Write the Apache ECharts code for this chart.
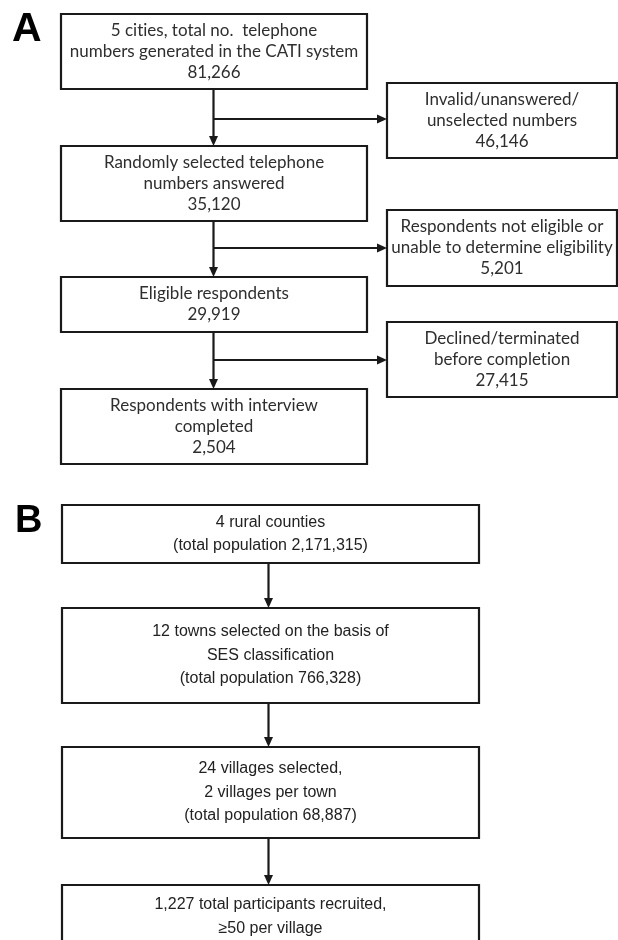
<!DOCTYPE html>
<html>
<head>
<meta charset="utf-8">
<script src="https://cdn.jsdelivr.net/npm/echarts@6/dist/echarts.min.js"></script>
<style>
html,body{margin:0;padding:0;background:#fff;}
#chart{width:618px;height:940px;}
</style>
</head>
<body>
<div id="chart"></div>
<script>
// ---------- DATA ----------
const panelLabels = ['A', 'B'];

// Panel A: telephone survey flow
const mainStepsA = [
  '5 cities, total no.  telephone\nnumbers generated in the CATI system',
  'Randomly selected telephone\nnumbers answered',
  'Eligible respondents',
  'Respondents with interview\ncompleted'
];
const mainCountsA = [81266, 35120, 29919, 2504];

const excludedStepsA = [
  'Invalid/unanswered/\nunselected numbers',
  'Respondents not eligible or\nunable to determine eligibility',
  'Declined/terminated\nbefore completion'
];
const excludedCountsA = [46146, 5201, 27415];

// Panel B: rural sampling flow
const stepsB = [
  '4 rural counties\n(total population {v})',
  '12 towns selected on the basis of\nSES classification\n(total population {v})',
  '24 villages selected,\n2 villages per town\n(total population {v})',
  '{v} total participants recruited,\n\u226550 per village'
];
const valuesB = [2171315, 766328, 68887, 1227];

// ---------- LAYOUT (pixel frame of the figure) ----------
const fmt = n => n.toLocaleString('en-US');
const noLig = s => s.replace(/([tf])(?=[il])/g, '$1\u200C');
const fontA = '17px Lato, "Noto Sans", sans-serif';
const fontB = '16px "Liberation Sans", Arial, sans-serif';

const layoutMainA = [[61, 14, 367, 89], [61, 146, 367, 221], [61, 277, 367, 332], [61, 389, 367, 464]];
const layoutExclA = [[387, 83, 617, 158], [387, 210, 617, 286], [387, 322, 617, 397]];
const layoutB = [[62, 505, 479, 563], [62, 608, 479, 703], [62, 747, 479, 838], [62, 885, 479, 965]];
const stemA = 213.5, stemB = 268.5;
const branchYA = [119, 248, 360];

const boxes = [];
mainStepsA.forEach((t, i) => boxes.push({ r: layoutMainA[i], text: noLig(t) + '\n' + fmt(mainCountsA[i]), font: fontA, lh: 21, fill: '#2e2e2e' }));
excludedStepsA.forEach((t, i) => boxes.push({ r: layoutExclA[i], text: noLig(t) + '\n' + fmt(excludedCountsA[i]), font: fontA, lh: 21, fill: '#2e2e2e' }));
stepsB.forEach((t, i) => boxes.push({ r: layoutB[i], text: t.replace('{v}', fmt(valuesB[i])), font: fontB, lh: 23.5, fill: '#222', top: i === 3 }));

// connectors: [x0,y0,x1,y1]
const connectors = [];
for (let i = 0; i < 3; i++) {
  connectors.push([stemA, layoutMainA[i][3], stemA, layoutMainA[i + 1][1]]);
  connectors.push([stemA, branchYA[i], layoutExclA[i][0], branchYA[i]]);
}
for (let i = 0; i < 3; i++) {
  connectors.push([stemB, layoutB[i][3], stemB, layoutB[i + 1][1]]);
}
const labelPos = [[12, 30], [15, 522]];

const chart = echarts.init(document.getElementById('chart'), null, { renderer: 'canvas' });
const option = {
  animation: false,
  backgroundColor: '#fff',
  grid: { left: 0, right: 0, top: 0, bottom: 0 },
  xAxis: { type: 'value', min: 0, max: 618, show: false },
  yAxis: { type: 'value', min: 0, max: 940, inverse: true, show: false },
  series: [
    {
      type: 'custom',
      clip: false,
      data: boxes.map(b => b.r),
      renderItem(params, api) {
        const b = boxes[params.dataIndex];
        const p0 = api.coord([api.value(0), api.value(1)]);
        const p1 = api.coord([api.value(2), api.value(3)]);
        const h = p1[1] - p0[1];
        return {
          type: 'rect',
          shape: { x: p0[0], y: p0[1], width: p1[0] - p0[0], height: h },
          style: { fill: '#fff', stroke: '#1a1a1a', lineWidth: 2.2 },
          textContent: {
            style: { text: b.text, font: b.font, fill: b.fill, lineHeight: b.lh, align: 'center' }
          },
          textConfig: b.top ? { position: 'insideTop', distance: 9 } : { position: 'inside' }
        };
      }
    },
    {
      type: 'custom',
      clip: false,
      data: connectors,
      renderItem(params, api) {
        const a = api.coord([api.value(0), api.value(1)]);
        const b = api.coord([api.value(2), api.value(3)]);
        const dx = b[0] - a[0], dy = b[1] - a[1];
        const len = Math.hypot(dx, dy), ux = dx / len, uy = dy / len;
        const hl = 10, hw = 4.5;
        const base = [b[0] - ux * hl, b[1] - uy * hl];
        return {
          type: 'group',
          children: [
            { type: 'line', shape: { x1: a[0], y1: a[1], x2: base[0] + ux * 2, y2: base[1] + uy * 2 }, style: { stroke: '#1a1a1a', lineWidth: 2.2 } },
            { type: 'polygon', shape: { points: [[b[0], b[1]], [base[0] - uy * hw, base[1] + ux * hw], [base[0] + uy * hw, base[1] - ux * hw]] }, style: { fill: '#1a1a1a' } }
          ]
        };
      }
    },
    {
      type: 'custom',
      clip: false,
      data: labelPos,
      renderItem(params, api) {
        const p = api.coord([api.value(0), api.value(1)]);
        return {
          type: 'text',
          x: p[0], y: p[1],
          style: { text: panelLabels[params.dataIndex], font: 'bold ' + (params.dataIndex === 0 ? 41 : 38) + 'px "Liberation Sans", Arial, sans-serif', fill: '#000', verticalAlign: 'middle', align: 'left' }
        };
      }
    }
  ]
};
chart.setOption(option);
</script>
</body>
</html>
